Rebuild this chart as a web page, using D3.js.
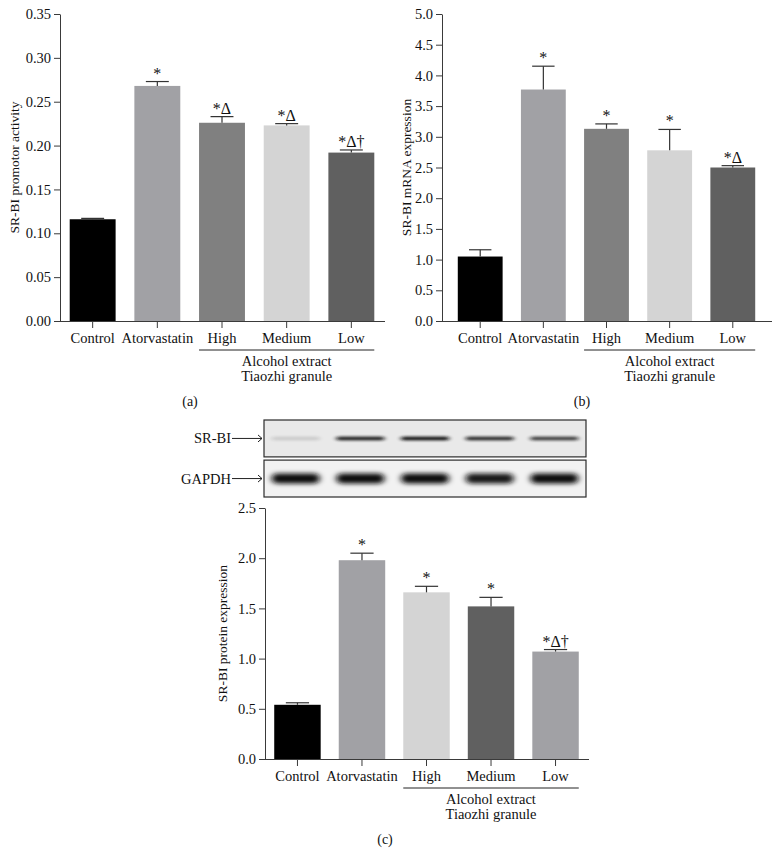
<!DOCTYPE html>
<html>
<head>
<meta charset="utf-8">
<script src="https://cdn.jsdelivr.net/npm/d3@7"></script>
<style>
  body { margin: 0; background: #fff; }
  svg text { font-family: "Liberation Serif", "DejaVu Serif", serif; fill: #111; }
</style>
</head>
<body>
<div id="chart"></div>
<script>
// Groups shared by all three panels
var categories = ["Control", "Atorvastatin", "High", "Medium", "Low"];

// (a) SR-BI promotor activity
var promoterMean = [0.116, 0.268, 0.226, 0.223, 0.192];
var promoterErr = [0.001, 0.005, 0.007, 0.002, 0.003];
var promoterMarks = ["", "*", "*\u0394", "*\u0394", "*\u0394\u2020"];
var promoterTicks = [0, 0.05, 0.10, 0.15, 0.20, 0.25, 0.30, 0.35];
var promoterColors = ["#000000", "#a1a1a5", "#808080", "#d4d4d4", "#606060"];

// (b) SR-BI mRNA expression
var mrnaMean = [1.05, 3.77, 3.13, 2.78, 2.50];
var mrnaErr = [0.11, 0.38, 0.08, 0.34, 0.03];
var mrnaMarks = ["", "*", "*", "*", "*\u0394"];
var mrnaTicks = [0, 0.5, 1.0, 1.5, 2.0, 2.5, 3.0, 3.5, 4.0, 4.5, 5.0];
var mrnaColors = ["#000000", "#a1a1a5", "#808080", "#d4d4d4", "#606060"];

// (c) SR-BI protein expression
var proteinMean = [0.54, 1.98, 1.66, 1.52, 1.07];
var proteinErr = [0.02, 0.07, 0.06, 0.09, 0.02];
var proteinMarks = ["", "*", "*", "*", "*\u0394\u2020"];
var proteinTicks = [0, 0.5, 1.0, 1.5, 2.0, 2.5];
var proteinColors = ["#000000", "#a1a1a5", "#d4d4d4", "#606060", "#a1a1a5"];

// western blot band strength per lane (0..1)
var blotRows = ["SR-BI", "GAPDH"];
var srbiBand = [0.12, 0.85, 0.9, 0.8, 0.72];
var gapdhBand = [1.0, 1.0, 1.0, 0.95, 1.0];

var w = 774, h = 866;
var fs = "14.5px";
var svg = d3.select("#chart").append("svg")
    .attr("width", w)
    .attr("height", h);

var defs = svg.append("defs");
defs.append("filter").attr("id", "blurThin")
    .attr("x", "-20%").attr("y", "-200%").attr("width", "140%").attr("height", "500%")
    .append("feGaussianBlur").attr("stdDeviation", "2.5 1.2");
defs.append("filter").attr("id", "blurThick")
    .attr("x", "-20%").attr("y", "-100%").attr("width", "140%").attr("height", "300%")
    .append("feGaussianBlur").attr("stdDeviation", "3 2.2");

function drawPanel(opt) {
    var g = svg.append("g");

    var x = d3.scaleBand()
        .domain(categories)
        .range([opt.left, opt.right])
        .paddingInner(opt.padIn)
        .paddingOuter(opt.padOut);

    var y = d3.scaleLinear()
        .domain([0, opt.max])
        .range([opt.bottom, opt.top]);

    // y axis
    var yAxis = g.append("g")
        .attr("transform", "translate(" + opt.left + ",0)")
        .call(d3.axisLeft(y).tickValues(opt.ticks).tickFormat(d3.format(opt.fmt))
            .tickSize(6).tickSizeOuter(0).tickPadding(3));
    yAxis.selectAll("text").style("font-size", fs);

    // x axis
    var xAxis = g.append("g")
        .attr("transform", "translate(0," + opt.bottom + ")")
        .call(d3.axisBottom(x).tickSize(7).tickSizeOuter(0).tickPadding(5));
    xAxis.select(".domain").attr("d", "M" + opt.left + ",0.5H" + (opt.right + 1));
    xAxis.selectAll("text").style("font-size", fs);

    g.selectAll(".domain, .tick line").attr("stroke", "#3a3a3a");

    // bars
    g.selectAll("rect.bar")
        .data(opt.mean)
        .enter().append("rect")
        .attr("class", "bar")
        .attr("x", function(d, i) { return x(categories[i]); })
        .attr("y", function(d) { return y(d); })
        .attr("width", x.bandwidth())
        .attr("height", function(d) { return opt.bottom - y(d); })
        .attr("fill", function(d, i) { return opt.colors[i]; });

    // upper error bars
    opt.mean.forEach(function(m, i) {
        var cx = x(categories[i]) + x.bandwidth() / 2;
        var top = y(m + opt.err[i]);
        g.append("line")
            .attr("x1", cx).attr("x2", cx)
            .attr("y1", y(m)).attr("y2", top)
            .attr("stroke", "#333").attr("stroke-width", 1.2);
        g.append("line")
            .attr("x1", cx - x.bandwidth() / 4).attr("x2", cx + x.bandwidth() / 4)
            .attr("y1", top).attr("y2", top)
            .attr("stroke", "#333").attr("stroke-width", 1.2);
        if (opt.marks[i]) {
            g.append("text")
                .attr("x", cx)
                .attr("y", top - 3)
                .attr("text-anchor", "middle")
                .style("font-size", "16px")
                .text(opt.marks[i]);
        }
    });

    // y axis title
    g.append("text")
        .attr("transform", "translate(" + opt.titleX + "," + ((opt.top + opt.bottom) / 2) + ") rotate(-90)")
        .attr("text-anchor", "middle")
        .style("font-size", "13.5px")
        .text(opt.title);

    // bracket for the three granule doses
    var bx0 = x("High"), bx1 = x("Low") + x.bandwidth();
    g.append("line")
        .attr("x1", bx0).attr("x2", bx1)
        .attr("y1", opt.bottom + 29).attr("y2", opt.bottom + 29)
        .attr("stroke", "#222").attr("stroke-width", 1);
    var mid = x("Medium") + x.bandwidth() / 2;
    g.append("text").attr("x", mid).attr("y", opt.bottom + 45)
        .attr("text-anchor", "middle").style("font-size", fs)
        .text("Alcohol extract");
    g.append("text").attr("x", mid).attr("y", opt.bottom + 60)
        .attr("text-anchor", "middle").style("font-size", fs)
        .text("Tiaozhi granule");

    // panel letter
    g.append("text").attr("x", opt.labelX).attr("y", opt.labelY)
        .attr("text-anchor", "middle").style("font-size", "14px")
        .text(opt.label);

    return x;
}

drawPanel({
    left: 60, right: 384, top: 14, bottom: 321, padIn: 0.29, padOut: 0.15,
    max: 0.35, ticks: promoterTicks, fmt: ".2f",
    mean: promoterMean, err: promoterErr, marks: promoterMarks, colors: promoterColors,
    title: "SR-BI promotor activity", titleX: 19, label: "(a)", labelX: 190, labelY: 406
});

drawPanel({
    left: 442, right: 771, top: 14, bottom: 321, padIn: 0.29, padOut: 0.25,
    max: 5, ticks: mrnaTicks, fmt: ".1f",
    mean: mrnaMean, err: mrnaErr, marks: mrnaMarks, colors: mrnaColors,
    title: "SR-BI mRNA expression", titleX: 411, label: "(b)", labelX: 582, labelY: 406
});

drawPanel({
    left: 265, right: 588, top: 508, bottom: 759, padIn: 0.28, padOut: 0.143,
    max: 2.5, ticks: proteinTicks, fmt: ".1f",
    mean: proteinMean, err: proteinErr, marks: proteinMarks, colors: proteinColors,
    title: "SR-BI protein expression", titleX: 227, label: "(c)", labelX: 385, labelY: 844
});

// western blot strips above panel (c)
var blot = svg.append("g");
var laneX = d3.scaleBand().domain(categories).range([264, 586]).paddingInner(0.26).paddingOuter(0.12);
var rowY = d3.scaleBand().domain(blotRows).range([420, 497]).paddingInner(0.08);
var rowFill = { "SR-BI": "#e9e9e9", "GAPDH": "#f2f2f2" };

blotRows.forEach(function(row, r) {
    var y0 = rowY(row), bh = rowY.bandwidth();
    blot.append("rect")
        .attr("x", 264).attr("y", y0)
        .attr("width", 322).attr("height", bh)
        .attr("fill", rowFill[row])
        .attr("stroke", "#2b2b2b").attr("stroke-width", 1.2);

    var vals = r === 0 ? srbiBand : gapdhBand;
    var thick = r === 0 ? 4 : 10;
    blot.selectAll("rect.band" + r)
        .data(vals)
        .enter().append("rect")
        .attr("class", "band" + r)
        .attr("x", function(d, i) { return laneX(categories[i]); })
        .attr("y", y0 + bh / 2 - thick / 2)
        .attr("width", laneX.bandwidth())
        .attr("height", thick)
        .attr("rx", thick / 2)
        .attr("fill", "#111")
        .attr("opacity", function(d) { return d; })
        .attr("filter", r === 0 ? "url(#blurThin)" : "url(#blurThick)");

    // label and arrow
    var cy = y0 + bh / 2;
    blot.append("text")
        .attr("x", 231).attr("y", cy + 5)
        .attr("text-anchor", "end")
        .style("font-size", fs)
        .text(row);
    blot.append("line")
        .attr("x1", 232).attr("x2", 262)
        .attr("y1", cy).attr("y2", cy)
        .attr("stroke", "#222").attr("stroke-width", 1);
    blot.append("path")
        .attr("d", "M258," + (cy - 3.5) + "L262," + cy + "L258," + (cy + 3.5))
        .attr("fill", "none").attr("stroke", "#222").attr("stroke-width", 1);
});
</script>
</body>
</html>
